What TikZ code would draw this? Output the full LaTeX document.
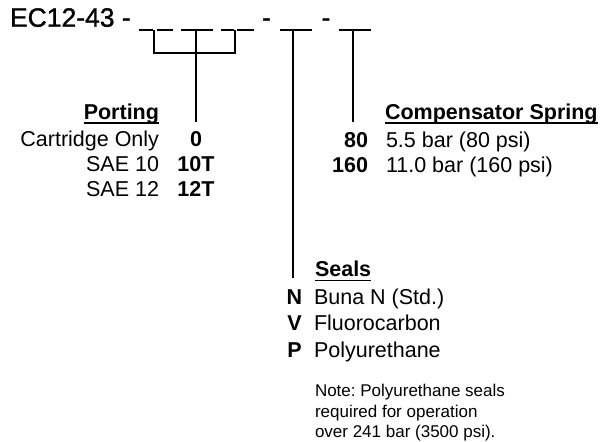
\documentclass[tikz,border=0pt]{standalone}
\usepackage{fontspec}
\setmainfont{Liberation Sans}
\newfontfamily\titlefont[FakeBold=1.2]{Liberation Sans}
\frenchspacing
\begin{document}
\begin{tikzpicture}[x=1pt,y=-1pt,
  every node/.style={inner sep=0pt, outer sep=0pt, text=black},
  title/.style={font=\titlefont\fontsize{26.5}{30}\selectfont, anchor=base west},
  dashsym/.style={font=\titlefont\fontsize{26.5}{30}\selectfont, anchor=base},
  txtL/.style={font=\fontsize{21.5}{25}\selectfont, anchor=base west},
  txtR/.style={font=\fontsize{21.5}{25}\selectfont, anchor=base east},
  code/.style={font=\fontsize{21.5}{25}\selectfont\bfseries, anchor=base},
  codeR/.style={font=\fontsize{21.5}{25}\selectfont\bfseries, anchor=base east},
  head/.style={font=\fontsize{21.5}{25}\selectfont\bfseries},
  notetxt/.style={font=\fontsize{17}{20.5}\selectfont, anchor=base west},
  blank/.style={line width=1.2pt},
  conn/.style={line width=1.1pt},
  uline/.style={line width=1.2pt}
]
\useasboundingbox (0,0) rectangle (604,441);

% title and blanks
\node[title] (title) at (10,26.7) {EC12-43 -};
\node[dashsym] (d1) at (266.5,26.7) {-};
\node[dashsym] (d2) at (326,26.7) {-};
\draw[blank] (139,30) -- (153,30);
\draw[blank] (157,30) -- (173,30);
\draw[blank] (181,30) -- (213,30);
\draw[blank] (221,30) -- (234,30);
\draw[blank] (237,30) -- (254,30);
\draw[blank] (280,30) -- (312,30);
\draw[blank] (339,30) -- (371,30);

% connector coordinates
\coordinate (b1) at (154,30);
\coordinate (b2) at (196,30);
\coordinate (b3) at (235,30);
\coordinate (b4) at (293,30);
\coordinate (b5) at (353,30);
\coordinate (k1) at (154,53);
\coordinate (k3) at (235,53);
\coordinate (e2) at (196,122);
\coordinate (e4) at (293,278);
\coordinate (e5) at (353,122);

\draw[conn] (b1) -- (k1) -- (k3) -- (b3);
\draw[conn] (b2) -- (e2);
\draw[conn] (b4) -- (e4);
\draw[conn] (b5) -- (e5);

% Porting
\node[head, anchor=base east] (porting) at (159,119) {Porting};
\draw[uline] ([yshift=-4pt]porting.base west) -- ([yshift=-4pt]porting.base east);
\node[txtR] (p1) at (159,146) {Cartridge Only};
\node[txtR] (p2) at (159,171.7) {SAE 10};
\node[txtR] (p3) at (159,196.7) {SAE 12};
\node[code] (c1) at (196,146) {0};
\node[code] (c2) at (196,171.7) {10T};
\node[code] (c3) at (196,196.7) {12T};

% Compensator Spring
\node[head, anchor=base west] (comp) at (385,119) {Compensator Spring};
\draw[uline] ([yshift=-4pt]comp.base west) -- ([yshift=-4pt]comp.base east);
\node[codeR] (s1) at (368,147) {80};
\node[txtL] (t1) at (386,147) {5.5 bar (80 psi)};
\node[codeR] (s2) at (368,172) {160};
\node[txtL] (t2) at (386,172) {11.0 bar (160 psi)};

% Seals
\node[head, anchor=base west] (seals) at (315,276.7) {Seals};
\draw[uline] ([yshift=-4pt]seals.base west) -- ([yshift=-4pt]seals.base east);
\node[code] (n1) at (294.5,304) {N};
\node[txtL] (m1) at (314,304) {Buna N (Std.)};
\node[code] (n2) at (294.5,330.7) {V};
\node[txtL] (m2) at (314,330.7) {Fluorocarbon};
\node[code] (n3) at (294.5,357.3) {P};
\node[txtL] (m3) at (314,357.3) {Polyurethane};

% Note
\node[notetxt] (note1) at (315,396.5) {Note: Polyurethane seals};
\node[notetxt] (note2) at (315,417) {required for operation};
\node[notetxt] (note3) at (315,437.5) {over 241 bar (3500 psi).};
\end{tikzpicture}
\end{document}
